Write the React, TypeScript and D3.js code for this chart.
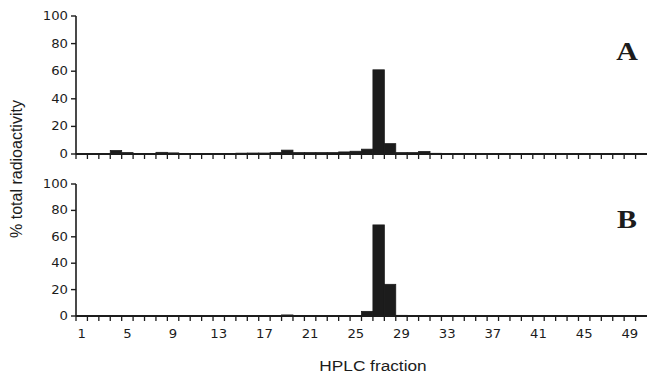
import { useEffect, useRef } from "react";
import * as d3 from "d3";

// HPLC fractions 1..50
const fractions: number[] = d3.range(1, 51);

// % total radioactivity, panel A (fractions 1..50)
const valuesA: number[] = [
  0, 0, 0, 2.5, 1, 0, 0, 1.2, 0.8, 0,
  0, 0, 0, 0, 0.6, 0.7, 0.7, 1, 2.8, 1,
  1, 1, 1, 1.5, 2, 3.5, 61, 7.5, 1, 1,
  1.8, 0.5, 0, 0, 0, 0, 0, 0, 0, 0,
  0, 0, 0, 0, 0, 0, 0, 0, 0, 0,
];

// panel B
const valuesB: number[] = [
  0, 0, 0, 0, 0, 0, 0, 0, 0, 0,
  0, 0.3, 0.3, 0.3, 0.3, 0.3, 0.3, 0.3, 0.8, 0.2,
  0.3, 0.3, 0.3, 0.3, 0.3, 3.5, 69, 24, 0.5, 0,
  0, 0, 0, 0, 0, 0, 0, 0, 0, 0,
  0, 0, 0, 0, 0, 0, 0, 0, 0, 0,
];

const yTicks: number[] = [0, 20, 40, 60, 80, 100];
const xTickLabels: number[] = [1, 5, 9, 13, 17, 21, 25, 29, 33, 37, 41, 45, 49];

const panels = [
  { label: "A", values: valuesA, top: 16, bottom: 154, showLabels: false },
  { label: "B", values: valuesB, top: 184, bottom: 316, showLabels: true },
];

const App = () => {
  const chartRef = useRef<SVGSVGElement | null>(null);

  useEffect(() => {
    document.body.style.margin = "0";
    const svg = d3.select(chartRef.current);
    svg.selectAll("*").remove();

    const width = 647;
    const left = 76;
    const ink = "#1c1c1c";
    const stretch = 1.15;

    const x = d3.scaleBand<number>().domain(fractions).range([left, width]).padding(0);

    panels.forEach((p) => {
      const y = d3.scaleLinear().domain([0, 100]).range([p.bottom, p.top]);
      const g = svg.append("g");

      // bars
      g.selectAll("rect")
        .data(p.values)
        .join("rect")
        .attr("x", (_, i) => x(fractions[i])!)
        .attr("width", x.bandwidth())
        .attr("y", (d) => y(d))
        .attr("height", (d) => p.bottom - y(d))
        .attr("fill", ink)
        .attr("stroke", ink)
        .attr("stroke-width", (d) => (d > 0 ? 0.8 : 0));

      // y axis
      g.append("line")
        .attr("x1", left).attr("x2", left)
        .attr("y1", p.top).attr("y2", p.bottom)
        .attr("stroke", ink).attr("stroke-width", 1.6);

      g.selectAll(".ytick")
        .data(yTicks)
        .join("line")
        .attr("x1", left - 5).attr("x2", left)
        .attr("y1", (d) => y(d)).attr("y2", (d) => y(d))
        .attr("stroke", ink).attr("stroke-width", 1.4);

      g.selectAll(".ylab")
        .data(yTicks)
        .join("text")
        .attr("transform", (d) => `translate(${left - 8},${y(d) + 4}) scale(${stretch},1)`)
        .attr("text-anchor", "end")
        .attr("font-family", "DejaVu Sans")
        .attr("font-size", 11.5)
        .attr("fill", ink)
        .text((d) => d);

      // x axis
      g.append("line")
        .attr("x1", left).attr("x2", width)
        .attr("y1", p.bottom).attr("y2", p.bottom)
        .attr("stroke", ink).attr("stroke-width", 1.8);

      g.selectAll(".xtick")
        .data(fractions)
        .join("line")
        .attr("x1", (d) => x(d)!).attr("x2", (d) => x(d)!)
        .attr("y1", p.bottom).attr("y2", p.bottom + 5)
        .attr("stroke", ink).attr("stroke-width", 1.3);

      if (p.showLabels) {
        g.selectAll(".xlab")
          .data(xTickLabels)
          .join("text")
          .attr("transform", (d) => `translate(${x(d)! + x.bandwidth() / 2},${p.bottom + 22}) scale(${stretch},1)`)
          .attr("text-anchor", "middle")
          .attr("font-family", "DejaVu Sans")
          .attr("font-size", 11.5)
          .attr("fill", ink)
          .text((d) => d);
      }

      // panel letter
      g.append("text")
        .attr("transform", `translate(627,${p.top + 44}) scale(${stretch},1)`)
        .attr("text-anchor", "middle")
        .attr("font-family", "Liberation Serif")
        .attr("font-weight", "bold")
        .attr("font-size", 26)
        .attr("fill", ink)
        .text(p.label);
    });

    // axis titles
    svg.append("text")
      .attr("transform", `translate(22,169) rotate(-90)`)
      .attr("text-anchor", "middle")
      .attr("font-family", "Liberation Sans")
      .attr("font-size", 16)
      .attr("fill", ink)
      .text("% total radioactivity");

    svg.append("text")
      .attr("transform", `translate(373,371) scale(${stretch},1)`)
      .attr("text-anchor", "middle")
      .attr("font-family", "Liberation Sans")
      .attr("font-size", 15)
      .attr("fill", ink)
      .text("HPLC fraction");

    return () => {
      svg.selectAll("*").remove();
    };
  }, []);

  return <svg ref={chartRef} width={647} height={375} style={{ display: "block", background: "#fff" }} />;
};

export default App;
